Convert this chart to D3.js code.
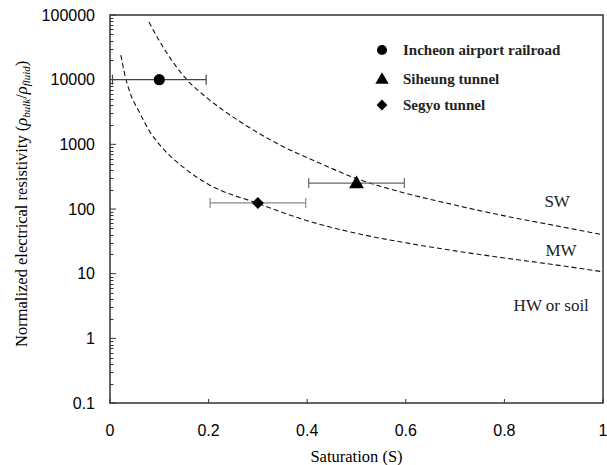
<!DOCTYPE html>
<html>
<head>
<meta charset="utf-8">
<script src="https://cdn.jsdelivr.net/npm/d3@7.9.0/dist/d3.min.js"></script>
<style>
  body { margin: 0; background: #fff; }
  svg { display: block; }
  .sans { font-family: 'Liberation Sans', Arial, sans-serif; }
  .serif { font-family: 'Liberation Serif', 'Times New Roman', 'DejaVu Serif', serif; }
</style>
</head>
<body>
<div id="chart"></div>
<script>
// curve readings (saturation, normalized resistivity)
const swS = [0.079, 0.1, 0.125, 0.156, 0.2, 0.264, 0.345, 0.426, 0.5, 0.588, 0.7, 0.791, 0.9, 1.0];
const swR = [78000, 40000, 20000, 10000, 5000, 2240, 975, 509, 295, 185, 115, 81, 56, 40];

const mwS = [0.022, 0.03, 0.04, 0.061, 0.08, 0.1, 0.156, 0.2, 0.3, 0.4, 0.5, 0.6, 0.7, 0.8, 0.9, 1.0];
const mwR = [24000, 12000, 6500, 3000, 1600, 1000, 400, 240, 122, 66, 42, 30, 22.5, 17.5, 13.8, 10.7];

// measured sites
const sites = ['Incheon airport railroad', 'Siheung tunnel', 'Segyo tunnel'];
const siteS = [0.1, 0.5, 0.3];
const siteR = [10000, 252, 124];
const siteErr = [0.095, 0.097, 0.097];
const errColor = ['#444', '#666', '#888'];

const zoneLabels = ['SW', 'MW', 'HW or soil'];
const zoneS = [0.907, 0.915, 0.895];
const zoneR = [133, 23.2, 3.27];

const xTicks = [0, 0.2, 0.4, 0.6, 0.8, 1];
const yTicks = [0.1, 1, 10, 100, 1000, 10000, 100000];

const width = 607;
const height = 465;
const margin = { top: 15, right: 4, bottom: 62, left: 110 };

const svg = d3.select('#chart')
  .append('svg')
  .attr('width', width)
  .attr('height', height);

const x = d3.scaleLinear()
  .domain([0, 1])
  .range([margin.left, width - margin.right]);

const y = d3.scaleLog()
  .domain([0.1, 100000])
  .range([height - margin.bottom, margin.top]);

// marker shapes: circle, triangle, square turned 45deg
function marker(sel, i, scale) {
  if (i === 0) {
    sel.append('circle').attr('r', 5.6 * scale).attr('fill', '#000');
  } else if (i === 1) {
    sel.append('path')
      .attr('d', d3.symbol(d3.symbolTriangle, 95 * scale * scale)())
      .attr('transform', 'translate(0,1)')
      .attr('fill', '#000');
  } else {
    sel.append('path')
      .attr('d', d3.symbol(d3.symbolSquare, 72 * scale * scale)())
      .attr('transform', 'rotate(45)')
      .attr('fill', '#000');
  }
}

// minor log ticks
const minor = [];
for (let e = -1; e < 5; e++) {
  for (let k = 2; k <= 9; k++) minor.push(k * Math.pow(10, e));
}

svg.append('g')
  .attr('stroke', '#333')
  .attr('stroke-width', 1)
  .selectAll('line')
  .data(minor)
  .join('line')
  .attr('x1', x(0))
  .attr('x2', x(0) + 3.5)
  .attr('y1', d => Math.round(y(d)) + 0.5)
  .attr('y2', d => Math.round(y(d)) + 0.5);

svg.append('g')
  .attr('stroke', '#333')
  .attr('stroke-width', 1)
  .selectAll('line')
  .data(yTicks)
  .join('line')
  .attr('x1', x(0))
  .attr('x2', x(0) + 6)
  .attr('y1', d => y(d))
  .attr('y2', d => y(d));

svg.append('g')
  .attr('stroke', '#333')
  .attr('stroke-width', 1)
  .selectAll('line')
  .data(xTicks)
  .join('line')
  .attr('x1', d => x(d))
  .attr('x2', d => x(d))
  .attr('y1', y(0.1))
  .attr('y2', y(0.1) - 4);

// frame
svg.append('rect')
  .attr('x', x(0))
  .attr('y', y(100000))
  .attr('width', x(1) - x(0))
  .attr('height', y(0.1) - y(100000))
  .attr('fill', 'none')
  .attr('stroke', '#333')
  .attr('stroke-width', 1.5);

// tick labels
svg.append('g')
  .attr('class', 'sans')
  .attr('font-size', 16)
  .selectAll('text')
  .data(yTicks)
  .join('text')
  .attr('x', 95)
  .attr('y', d => y(d))
  .attr('dy', '0.35em')
  .attr('text-anchor', 'end')
  .text(d => String(d));

svg.append('g')
  .attr('class', 'sans')
  .attr('font-size', 16)
  .selectAll('text')
  .data(xTicks)
  .join('text')
  .attr('x', d => x(d))
  .attr('y', 436)
  .attr('text-anchor', 'middle')
  .text(d => String(d));

// axis titles
svg.append('text')
  .attr('class', 'serif')
  .attr('font-size', 16.5)
  .attr('x', x(0.5))
  .attr('y', 462)
  .attr('text-anchor', 'middle')
  .text('Saturation (S)');

const yTitle = svg.append('text')
  .attr('class', 'serif')
  .attr('font-size', 16.5)
  .attr('transform', 'translate(27,347) rotate(-90)');
yTitle.append('tspan').text('Normalized electrical resistivity (');
yTitle.append('tspan').attr('font-style', 'italic').text('ρ');
yTitle.append('tspan').attr('font-style', 'italic').attr('font-size', 11).attr('dy', 3).text('bulk');
yTitle.append('tspan').attr('dy', -3).text('/');
yTitle.append('tspan').attr('font-style', 'italic').text('ρ');
yTitle.append('tspan').attr('font-style', 'italic').attr('font-size', 11).attr('dy', 3).text('fluid');
yTitle.append('tspan').attr('dy', -3).text(')');

// boundary curves
const line = d3.line()
  .x(d => x(d[0]))
  .y(d => y(d[1]))
  .curve(d3.curveMonotoneX);

[[swS, swR], [mwS, mwR]].forEach(([s, r]) => {
  svg.append('path')
    .datum(s.map((v, i) => [v, r[i]]))
    .attr('d', line)
    .attr('fill', 'none')
    .attr('stroke', '#111')
    .attr('stroke-width', 1.1)
    .attr('stroke-dasharray', '5,3');
});

// zone labels
svg.append('g')
  .attr('class', 'serif')
  .attr('font-size', 17)
  .selectAll('text')
  .data(zoneLabels)
  .join('text')
  .attr('x', (d, i) => x(zoneS[i]))
  .attr('y', (d, i) => y(zoneR[i]))
  .attr('text-anchor', 'middle')
  .attr('dy', '0.35em')
  .attr('fill', '#222')
  .text(d => d);

// error bars and markers
sites.forEach((name, i) => {
  const g = svg.append('g')
    .attr('stroke', errColor[i])
    .attr('stroke-width', 1.2);
  const cy = y(siteR[i]);
  const x0 = x(siteS[i] - siteErr[i]);
  const x1 = x(siteS[i] + siteErr[i]);
  g.append('line').attr('x1', x0).attr('x2', x1).attr('y1', cy).attr('y2', cy);
  g.append('line').attr('x1', x0).attr('x2', x0).attr('y1', cy - 5).attr('y2', cy + 5);
  g.append('line').attr('x1', x1).attr('x2', x1).attr('y1', cy - 5).attr('y2', cy + 5);
});

sites.forEach((name, i) => {
  svg.append('g')
    .attr('transform', `translate(${x(siteS[i])},${y(siteR[i])})`)
    .call(marker, i, 1);
});

// legend
const legend = svg.append('g')
  .attr('transform', 'translate(382,50)');

const rowY = [0, 29, 55];

sites.forEach((name, i) => {
  const row = legend.append('g')
    .attr('transform', `translate(0,${rowY[i]})`);
  row.call(marker, i, 0.9);
  row.append('text')
    .attr('class', 'serif')
    .attr('font-size', 15)
    .attr('font-weight', 'bold')
    .attr('x', 21)
    .attr('dy', '0.35em')
    .attr('fill', '#222')
    .text(name);
});
</script>
</body>
</html>
